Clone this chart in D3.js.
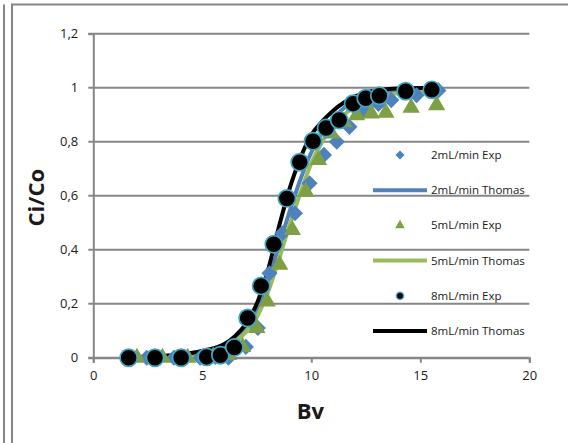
<!DOCTYPE html>
<html>
<head>
<meta charset="utf-8">
<script src="https://cdn.jsdelivr.net/npm/d3@7/dist/d3.min.js"></script>
<style>
  body { margin: 0; background: #fff; }
  svg { display: block; font-family: 'Open Sans', sans-serif; }
</style>
</head>
<body>
<div class="chart"></div>
<script>
const width = 568
const height = 443
const margin = { top: 33.7, right: 38.7, bottom: 85.3, left: 93.3 }

const theme = {
  grid: '#868686',
  text: '#1a1a1a',
  blue: '#4f81bd',
  greenMarker: '#7f9f45',
  greenLine: '#9bbb59',
  black: '#000',
  ring: '#3fa8c4'
}

const xTicks = [0, 5, 10, 15, 20]
const yTicks = [0, 0.2, 0.4, 0.6, 0.8, 1, 1.2]

// measured points [Bv, Ci/Co]
const exp2 = [
  [2.45, 0], [3.7, 0], [4.9, 0], [5.6, 0.003], [6.2, 0], [7.0, 0.04],
  [7.55, 0.11], [8.08, 0.313], [8.67, 0.461], [9.25, 0.535], [9.92, 0.646],
  [10.58, 0.751], [11.17, 0.8], [11.75, 0.855], [12.42, 0.917], [13.08, 0.94],
  [13.67, 0.954], [14.83, 0.972], [15.83, 0.99]
]
const exp5 = [
  [2.0, 0], [3.17, 0], [4.33, 0], [5.5, 0.004], [6.2, 0.01], [6.85, 0.04],
  [7.5, 0.11], [7.98, 0.208], [8.55, 0.344], [9.13, 0.473], [9.75, 0.615],
  [10.33, 0.732], [10.92, 0.83], [11.5, 0.873], [12.08, 0.898], [12.75, 0.904],
  [13.42, 0.907], [14.58, 0.926], [15.75, 0.935]
]
const exp8 = [
  [1.62, 0], [2.83, 0], [4.03, 0], [5.2, 0.003], [5.83, 0.009], [6.47, 0.038],
  [7.08, 0.147], [7.7, 0.266], [8.28, 0.42], [8.88, 0.59], [9.47, 0.724],
  [10.08, 0.802], [10.68, 0.851], [11.28, 0.88], [11.92, 0.941], [12.5, 0.961],
  [13.12, 0.97], [14.33, 0.987], [15.53, 0.992]
]

// model curves [Bv, Ci/Co]
const thomas2 = [
  [1.8, 0.002], [3, 0.005], [4, 0.012], [5, 0.025], [6, 0.05], [6.5, 0.075],
  [7, 0.115], [7.5, 0.18], [8, 0.28], [8.5, 0.41], [9, 0.54], [9.5, 0.66],
  [10, 0.76], [10.5, 0.835], [11, 0.885], [11.5, 0.925], [12, 0.95], [13, 0.978],
  [14, 0.99], [15.8, 0.997]
]
const thomas5 = [
  [2, 0.001], [3, 0.003], [4, 0.008], [5, 0.018], [6, 0.04], [6.5, 0.06],
  [7, 0.095], [7.5, 0.15], [8, 0.24], [8.5, 0.36], [9, 0.49], [9.5, 0.61],
  [10, 0.72], [10.5, 0.8], [11, 0.86], [11.5, 0.9], [12, 0.93], [13, 0.96],
  [14, 0.98], [15.7, 0.99]
]
const thomas8 = [
  [1.6, 0.002], [2.8, 0.005], [4, 0.012], [5, 0.025], [6, 0.05], [6.5, 0.08],
  [7, 0.125], [7.5, 0.2], [8, 0.32], [8.5, 0.48], [9, 0.625], [9.5, 0.74],
  [10, 0.825], [10.5, 0.875], [11, 0.915], [11.5, 0.945], [12, 0.967], [12.5, 0.982],
  [13, 0.99], [14, 0.997], [15.6, 1.0]
]

const legendNames = [
  '2mL/min Exp', '2mL/min Thomas', '5mL/min Exp',
  '5mL/min Thomas', '8mL/min Exp', '8mL/min Thomas'
]

const svg = d3.select('.chart')
  .append('svg')
  .attr('width', width)
  .attr('height', height)

// outer frame
svg.append('line').attr('x1', 4).attr('x2', 4).attr('y1', 4.5).attr('y2', height)
  .attr('stroke', theme.grid).attr('stroke-width', 2)
svg.append('line').attr('x1', 12).attr('x2', 12).attr('y1', 4.5).attr('y2', height)
  .attr('stroke', theme.grid).attr('stroke-width', 2)
svg.append('line').attr('x1', 11).attr('x2', width).attr('y1', 4.5).attr('y2', 4.5)
  .attr('stroke', theme.grid).attr('stroke-width', 2)

const x = d3.scaleLinear().domain([0, 20]).range([margin.left, width - margin.right])
const y = d3.scaleLinear().domain([0, 1.2]).range([height - margin.bottom, margin.top])

const fmt = d => String(d).replace('.', ',')

// gridlines
svg.append('g')
  .selectAll('line')
  .data(yTicks)
  .join('line')
  .attr('x1', x(0) - 5)
  .attr('x2', x(20))
  .attr('y1', d => y(d))
  .attr('y2', d => y(d))
  .attr('stroke', theme.grid)
  .attr('stroke-width', 2)

// y axis
const yAxis = svg.append('g')
  .attr('transform', `translate(${x(0)},0)`)
  .call(d3.axisLeft(y).tickValues(yTicks).tickFormat(fmt).tickSize(5).tickPadding(10))
yAxis.select('.domain').attr('stroke', theme.grid).attr('stroke-width', 2)
yAxis.selectAll('.tick line').attr('stroke', 'none')
yAxis.selectAll('text').attr('font-size', 13).attr('fill', theme.text)
  .attr('font-family', 'Open Sans')

// x axis
const xAxis = svg.append('g')
  .attr('transform', `translate(0,${y(0)})`)
  .call(d3.axisBottom(x).tickValues(xTicks).tickSize(5).tickPadding(8))
xAxis.select('.domain').attr('stroke', theme.grid).attr('stroke-width', 2)
xAxis.selectAll('.tick line').attr('stroke', theme.grid).attr('stroke-width', 2)
xAxis.selectAll('text').attr('font-size', 13).attr('fill', theme.text)
  .attr('font-family', 'Open Sans')

// axis titles
svg.append('text')
  .attr('x', (x(0) + x(20)) / 2 - 1)
  .attr('y', 419)
  .attr('text-anchor', 'middle')
  .attr('font-size', 22)
  .attr('font-weight', 'bold')
  .attr('fill', theme.text)
  .text('Bv')

svg.append('text')
  .attr('transform', `translate(44,${(y(0) + y(1.2)) / 2 + 2}) rotate(-90)`)
  .attr('text-anchor', 'middle')
  .attr('font-size', 22)
  .attr('font-weight', 'bold')
  .attr('fill', theme.text)
  .text('Ci/Co')

// model lines
const line = d3.line()
  .x(d => x(d[0]))
  .y(d => y(d[1]))
  .curve(d3.curveMonotoneX)

const lines = [
  { data: thomas2, color: theme.blue },
  { data: thomas5, color: theme.greenLine },
  { data: thomas8, color: theme.black }
]

svg.append('g')
  .selectAll('path')
  .data(lines)
  .join('path')
  .attr('d', d => line(d.data))
  .attr('fill', 'none')
  .attr('stroke', d => d.color)
  .attr('stroke-width', 4)

// markers
const diamond = d3.symbol().type(d3.symbolSquare)
const triangle = d3.symbol().type(d3.symbolTriangle)

svg.append('g')
  .selectAll('path')
  .data(exp2)
  .join('path')
  .attr('d', diamond.size(130)())
  .attr('transform', d => `translate(${x(d[0])},${y(d[1])}) rotate(45)`)
  .attr('fill', theme.blue)

svg.append('g')
  .selectAll('path')
  .data(exp5)
  .join('path')
  .attr('d', triangle.size(130)())
  .attr('transform', d => `translate(${x(d[0])},${y(d[1])})`)
  .attr('fill', theme.greenMarker)

svg.append('g')
  .selectAll('circle')
  .data(exp8)
  .join('circle')
  .attr('cx', d => x(d[0]))
  .attr('cy', d => y(d[1]))
  .attr('r', 8.6)
  .attr('fill', theme.black)
  .attr('stroke', theme.ring)
  .attr('stroke-width', 1.7)

// legend
const legend = svg.append('g').attr('transform', 'translate(0,155)')
const rowH = 35.2

legendNames.forEach((name, i) => {
  const g = legend.append('g').attr('transform', `translate(0,${i * rowH})`)
  if (i === 0) {
    g.append('path').attr('d', diamond.size(40)())
      .attr('transform', 'translate(400,0) rotate(45)').attr('fill', theme.blue)
  } else if (i === 2) {
    g.append('path').attr('d', triangle.size(40)())
      .attr('transform', 'translate(400,0)').attr('fill', theme.greenMarker)
  } else if (i === 4) {
    g.append('circle').attr('cx', 400).attr('cy', 0).attr('r', 3.6)
      .attr('fill', theme.black).attr('stroke', theme.ring).attr('stroke-width', 1.4)
  } else {
    g.append('line').attr('x1', 373).attr('x2', 427).attr('y1', 0).attr('y2', 0)
      .attr('stroke', lines[(i - 1) / 2].color).attr('stroke-width', 4)
  }
  g.append('text')
    .attr('x', 431)
    .attr('y', 4)
    .attr('font-size', 11.5)
    .attr('fill', theme.text)
    .text(name)
})
</script>
</body>
</html>
